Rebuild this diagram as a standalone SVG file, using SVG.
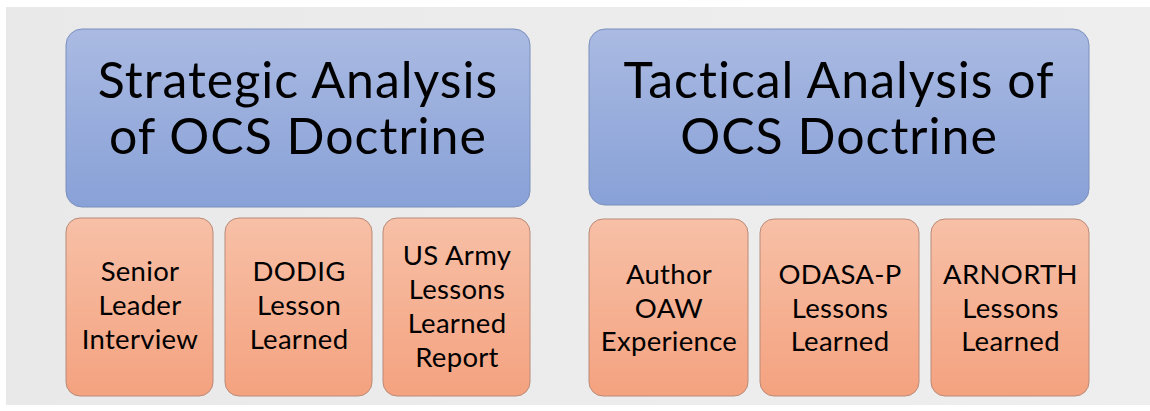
<svg xmlns="http://www.w3.org/2000/svg" width="1150" height="411" viewBox="0 0 1150 411">
<defs>
<linearGradient id="gBlue" x1="0" y1="0" x2="0" y2="1">
<stop offset="0" stop-color="#aabae2"/>
<stop offset="1" stop-color="#88a1d7"/>
</linearGradient>
<linearGradient id="gOrange" x1="0" y1="0" x2="0" y2="1">
<stop offset="0" stop-color="#f7c0a7"/>
<stop offset="1" stop-color="#f4a27f"/>
</linearGradient>
<linearGradient id="gBg" x1="0" y1="0" x2="1" y2="0">
<stop offset="0" stop-color="#e9e9e9"/>
<stop offset="0.5" stop-color="#ececec"/>
<stop offset="1" stop-color="#eeeeee"/>
</linearGradient>
</defs>
<style>
.big{fill:url(#gBlue);stroke:#7b8fbd;stroke-width:1}
.small{fill:url(#gOrange);stroke:#b98a78;stroke-width:1}
.tb{font-family:Lato,"Open Sans","Liberation Sans",sans-serif;font-size:50px;letter-spacing:1px;fill:#000;text-anchor:middle}
.ts{font-family:Lato,"Open Sans","Liberation Sans",sans-serif;font-size:27.5px;letter-spacing:0.3px;fill:#000;text-anchor:middle}
</style>
<rect x="0" y="0" width="1150" height="411" fill="#ffffff"/>
<rect x="6" y="7" width="1144" height="398" fill="url(#gBg)"/>
<g id="strategic">
<rect class="big" x="66" y="29" width="464" height="178" rx="16"/>
<text class="tb" x="298" y="98">Strategic Analysis</text>
<text class="tb" x="298" y="154">of OCS Doctrine</text>
</g>
<g id="tactical">
<rect class="big" x="589" y="29" width="500" height="176" rx="16"/>
<text class="tb" x="839" y="98">Tactical Analysis of</text>
<text class="tb" x="839" y="154">OCS Doctrine</text>
</g>
<g id="senior">
<rect class="small" x="66" y="218" width="147" height="178" rx="14"/>
<text class="ts" x="140" y="281">Senior</text>
<text class="ts" x="140" y="315">Leader</text>
<text class="ts" x="140" y="349">Interview</text>
</g>
<g id="dodig">
<rect class="small" x="225" y="218" width="147" height="178" rx="14"/>
<text class="ts" x="299" y="281">DODIG</text>
<text class="ts" x="299" y="315">Lesson</text>
<text class="ts" x="299" y="349">Learned</text>
</g>
<g id="usarmy">
<rect class="small" x="383" y="218" width="147" height="178" rx="14"/>
<text class="ts" x="457" y="265">US Army</text>
<text class="ts" x="457" y="299">Lessons</text>
<text class="ts" x="457" y="333">Learned</text>
<text class="ts" x="457" y="367">Report</text>
</g>
<g id="author">
<rect class="small" x="589" y="219" width="159" height="177" rx="14"/>
<text class="ts" x="669" y="284">Author</text>
<text class="ts" x="669" y="318">OAW</text>
<text class="ts" x="669" y="351">Experience</text>
</g>
<g id="odasa">
<rect class="small" x="760" y="219" width="159" height="177" rx="14"/>
<text class="ts" x="840" y="284">ODASA-P</text>
<text class="ts" x="840" y="318">Lessons</text>
<text class="ts" x="840" y="351">Learned</text>
</g>
<g id="arnorth">
<rect class="small" x="931" y="219" width="158" height="177" rx="14"/>
<text class="ts" x="1010.5" y="284">ARNORTH</text>
<text class="ts" x="1010.5" y="318">Lessons</text>
<text class="ts" x="1010.5" y="351">Learned</text>
</g>
<g id="connectors"></g>
</svg>
